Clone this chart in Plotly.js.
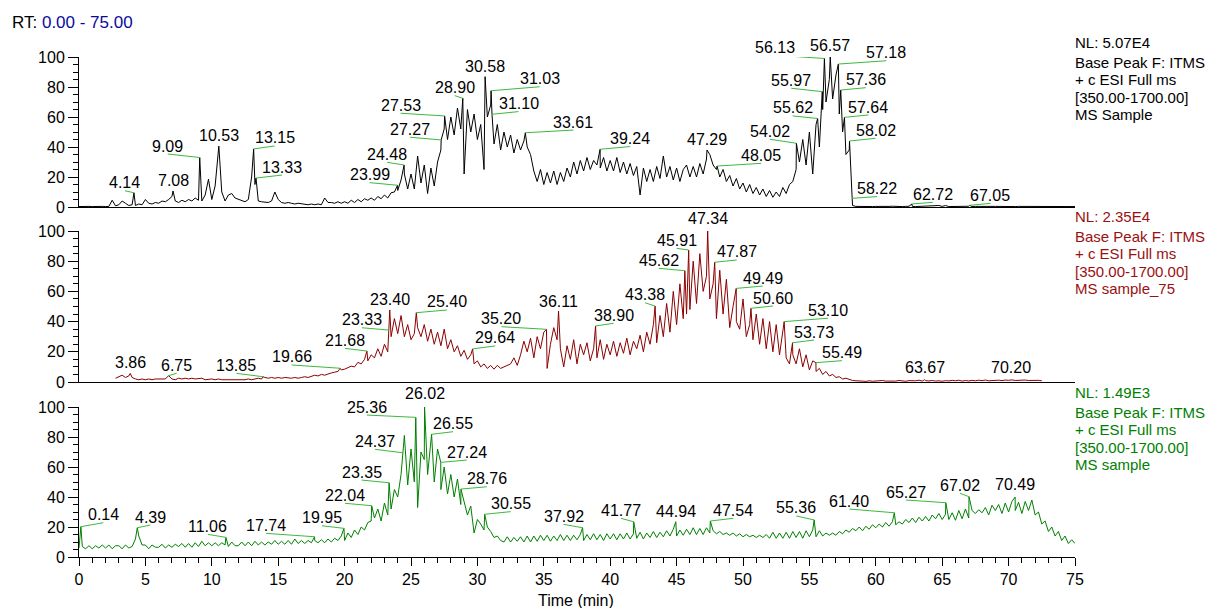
<!DOCTYPE html>
<html><head><meta charset="utf-8">
<script src="https://cdn.plot.ly/plotly-3.0.1.min.js"></script>
<style>html,body{margin:0;padding:0;background:#fff;}#chart{width:1209px;height:608px;}</style>
</head><body><div id="chart"></div>
<script>
// ---------- DATA ----------
const STEP = 0.25; // minutes between successive samples in the value arrays (t = 0 ... 75)

// Panel 1: MS Sample (relative abundance, %)
const valuesSample = [
0.3,0.5,0.3,0.4, 0.3,0.5,0.3,0.4, 0.3,0.4,4.5,0.8, 1.5,4.0,2.5,1.0, 1.5,1.0,2.0,1.5,
5.0,2.5,2.0,3.0, 2.5,4.0,3.5,5.0, 7.0,4.0,3.0,4.5, 3.5,5.0,4.0,6.0, 4.5,4.0,8.0,18.5,
5.0,14,36,10, 4.0,8.0,9.0,6.0, 5.0,4.0,3.5,5.0, 20,15,4.0,3.5, 3.5,3.0,4.0,10,
5.0,3.0,2.5,3.0, 2.5,2.0,2.5,2.0, 2.0,1.5,2.0,1.5, 2.0,1.5,6.0,3.0, 3.0,2.5,3.5,2.5,
3.5,2.5,4.5,3.0, 5.0,3.5,5.5,4.5, 6.0,4.5,7.0,5.5, 8.0,6.0,9.5,10, 11,18,22,12,
22,12,34,16, 28,9,26,14, 30,38,52,45, 60,48,66,52, 22,65,50,62,
45,55,25,60, 68,42,55,38, 50,40,48,36, 45,38,44,40, 35,24,17,25,
15,23,16,24, 15,23,17,26, 20,30,22,31, 24,33,25,31, 28,26,33,24,
31,24,33,23, 30,22,29,21, 27,8,26,17, 25,17,27,19, 34,20,27,18,
26,17,25,28, 20,27,20,29, 22,32,35,28, 25,20,25,17, 21,14,19,12,
16,10,15,9, 13,8,12,7, 11,6.5,10,7, 13,9,15,17, 25,30,45,28,
50,22,55,40, 65,70,85,72, 88,62,50,35, 38,1.0,0.4,0.3, 0.4,0.3,0.5,0.3,
0.4,0.3,0.4,0.3, 0.4,0.5,0.3,0.4, 0.3,0.4,0.5,0.4, 0.3,0.4,0.3,0.5, 0.3,0.4,0.5,1.0,
0.4,1.0,0.3,0.4, 0.3,0.4,0.3,0.4, 0.5,0.3,0.4,0.3, 0.3,0.4,0.3,0.4, 0.4,0.3,0.4,0.3,
0.3,0.4,0.3,0.4, 0.4,0.3,0.4,0.3, 0.3,0.4,0.3,0.4, 0.4,0.3,0.4,0.3, 0.3,0.4,0.3,0.4,
0.3];
const peakTimesSample = [4.14,7.08,9.09,10.53,13.15,13.33,23.99,24.48,27.27,27.53,28.90,30.58,31.03,31.10,33.61,39.24,47.29,48.05,54.02,55.62,55.97,56.13,56.57,57.18,57.36,57.64,58.02,58.22,62.72,67.05];
const peakValsSample  = [9.5,10.7,33,40.6,38.7,19.3,14.5,28,44.7,60.7,72.5,86.9,77.5,61.8,49.5,38.5,38,27.3,42.5,59,76.9,99,100,95.3,78,59.8,44,5.8,2,1.1];

// Panel 2: MS sample_75
const valuesSample75 = [
null,null,null,null, null,null,null,null, null,null,null,2.5, 3.5,4.5,3.0,4.0, 3.0,2.0,1.5,2.0,
1.5,2.0,1.5,2.0, 2.0,2.5,2.0,4.2, 2.0,1.5,2.5,2.0, 2.5,2.0,2.5,2.0, 2.0,2.5,1.5,2.0,
2.0,1.5,2.0,1.5, 1.5,1.0,1.5,1.0, 1.5,1.0,1.5,2.0, 1.5,2.0,2.5,2.0, 3.0,2.5,3.0,2.5,
3.0,2.5,3.0,2.5, 2.5,3.0,2.5,3.0, 3.5,3.0,4.0,4.5, 4.0,5.0,4.5,5.5, 6.0,6.5,7.0,8.0,
8.5,9.5,10.5,10, 13,12,15,14, 18,16,22,17, 25,20,30,42, 32,44,30,38,
28,32,36,30, 38,27,35,25, 33,24,35,22, 28,20,24,17, 21,15,18,12,
14,10,12,9, 11,8.5,11,9, 10,11,12,16, 11,18,27,20, 29,16,30,22,
33,9,25,36, 28,22,10,24, 15,28,12,25, 18,26,14,22, 16,28,15,25,
18,27,17,26, 19,29,18,27, 22,31,20,33, 25,38,26,44, 30,52,33,60,
38,65,42,45, 48,80,52,85, 60,70,55,65, 42,74,45,68, 36,50,40,35,
55,30,38,28, 45,25,42,22, 40,20,38,18, 34,16,12,18, 12,22,10,18,
8,14,7,9, 5,7,4,5, 3,3.5,2,2.5, 1.5,1.0,0.8,0.5, 0.6,0.4,0.8,0.5,
0.7,0.5,1.0,0.6, 0.5,0.8,0.6,1.0, 0.7,0.5,0.9,0.6, 0.8,1.2,0.6,0.9, 0.7,1.0,0.6,0.8,
0.5,0.9,0.7,1.1, 0.8,1.2,0.6,1.0, 0.7,1.1,0.8,1.2, 0.9,1.3,0.8,1.1, 1.0,1.2,0.9,1.3,
1.1,1.4,1.0,1.2, 0.9,1.3,1.0,1.2, 0.9,1.1,0.8,null, null,null,null,null, null,null,null,null,
null];
const peakTimesSample75 = [3.86,6.75,13.85,19.66,21.68,23.33,23.40,25.40,29.64,35.20,36.11,38.90,43.38,45.62,45.91,47.34,47.87,49.49,50.60,53.10,53.73,55.49,63.67,70.20];
const peakValsSample75  = [5.7,4.2,3.5,9.1,20.5,34.4,47.7,45.9,21.9,34.9,47,37.1,50.3,73.7,87.4,100,79.3,62,48.8,40,26,12.8,1.5,1.5];

// Panel 3: MS sample
const valuesSampleB = [
6,7,5.5,7.5, 5.5,7.5,6,8, 6,8,5.5,7.5, 7.5,5.5,8,6, 7,12,14,8,
8,5.5,8,6.5, 6.5,8.5,6,8, 6.5,8.5,7,9, 6.5,9,6.5,9.5, 7,10.5,7.5,9.5,
7.5,9.5,7.5,9.5, 8,7,10,7.5, 7.5,10,7.5,10, 7.5,10.5,8,10, 8,10,8.5,11,
8.5,10.5,8.5,11, 8.5,12,9,11, 9,11,9.5,11, 9.5,11.5,9.5,12, 10,12.5,11,14,
11,16,13,18, 15,20,18,23, 24,26,32,24, 36,28,32,45, 40,55,81,48,
72,50,33,70, 65,55,75,50, 72,45,60,42, 55,40,52,35, 36,28,34,16,
25,22,18,20, 17,13,14,11, 10,13.5,10,13, 10.5,13.5,10,14, 10,14,10.5,14.5,
11,14.5,10.5,14, 11,15,11,14.5, 11,14.5,11.5,15, 11,15,11.5,15.5, 11.5,15,11,15.5,
12,15.5,11.5,15.5, 12,16,12,15.5, 12.5,16.5,12,16, 13,17,13,16.5, 13.5,17.5,14,18.5,
14,18,14.5,18.5, 15,19.5,15,19, 15,19.5,16,17.5, 15.5,17,15,16, 14.5,16,14,15.5,
13.5,15,13.5,14.5, 13,14.5,13,15, 12.5,16.5,12.5,16, 12.5,16.5,12.5,17, 13,17,12.5,17.5,
13.5,18,13.5,17.5, 14,16,14.5,16, 14.5,17,15.5,18, 16.5,19,17.5,20, 17.5,20.5,18.5,21.5,
19.5,22,20,23, 20.5,23.5,21.5,23.5, 22,25,23,26, 23,26.5,24,27, 24,28,25.5,29,
25,28.5,25,29.5, 24.5,31,25.5,32, 26,31,29,31.5, 29.5,33,28,34.5, 31,35,29,36,
30,37,31,36.5, 29,37,31,38, 28,30,22,24, 17,20,14,17, 11,14,9,11.5,
9];
const peakTimesSampleB = [0.14,4.39,11.06,17.74,19.95,22.04,23.35,24.37,25.36,26.02,26.55,27.24,28.76,30.55,37.92,41.77,44.94,47.54,55.36,61.40,65.27,67.02,70.49];
const peakValsSampleB  = [20.2,19.5,13.1,13.5,19.1,34.2,49.5,69.5,93.1,100,81.8,63.1,45.3,28.5,19.5,23.5,23.5,24,24.7,29.5,36.2,40.2,40];

const yTickVals = [0,20,40,60,80,100];
const xTickVals = [0,5,10,15,20,25,30,35,40,45,50,55,60,65,70,75];

// ---------- LABEL PLACEMENT (pixel offsets of the leader-line end from the peak: [dx, dyUp]) ----------
const labelOffSample = [[-9,2],[0,2.5],[-32,3.5],[0,2.8],[21,3],[26,3],[-28,2.6],[-17,2.7],[-31,2.7],[-44,2.7],[-8,2.6],[0,2.5],[48.5,4],[26.5,2.7],[48,2.7],[30,2.7],[0,2.5],[44,2.7],[-26.5,4],[-25,2.6],[-31,3.4],[-49,3.3],[0,3.8],[48,3.3],[25,2.3],[24,2.3],[26,2.7],[25,1.7],[21,1.7],[21,2]];
const labelOffSample75 = [[0,2.5],[8,2.4],[-26.5,3.4],[-48.5,3.3],[-22,2.7],[-27,2.3],[0,2.5],[30.5,2.7],[22.5,3],[-45,2.6],[0,1.8],[18,2.7],[-10,3.3],[-26,2.4],[-12,1.7],[0,4.5],[22,2.3],[26.5,2.3],[22,2.3],[44,3.4],[21.5,2.7],[26,2],[0,3.9],[0,3.9]];
const labelOffSampleB = [[22.5,4],[13,2.7],[-18,3],[-48.5,3.4],[-22,2.6],[-26.7,2.4],[-27.5,2.7],[-27.5,3.4],[-49,2.3],[0,5.5],[21.5,2.6],[26,2.3],[26,2.3],[26,2.6],[-19,3.4],[-12.7,3.4],[0,2.5],[23,2.7],[-18,4],[-45,3.7],[-40,2.7],[-9,3.4],[0,4.2]];

// ---------- BUILD ----------
function series(vals, pt, pv){
  const pts = vals.map((v,i)=>[i*STEP, v]);
  pt.forEach((t,i)=>pts.push([t, pv[i]]));
  pts.sort((a,b)=>a[0]-b[0]);
  const out=[];
  for(const p of pts){
    const last = out[out.length-1];
    if(last && Math.abs(last[0]-p[0])<1e-9){ last[1] = Math.max(last[1]==null?0:last[1], p[1]); }
    else out.push(p.slice());
  }
  return {x: out.map(p=>p[0]), y: out.map(p=>p[1])};
}

const FONT = '"Liberation Sans", Arial, sans-serif';
const LEAD = 'rgb(60,185,60)';
const panels = [
  {vals: valuesSample,   pt: peakTimesSample,   pv: peakValsSample,   off: labelOffSample,   color:'#000000', tcolor:'#000000', xa:'x',  ya:'y',  top:1.0,
   info:['NL: 5.07E4','Base Peak F: ITMS','+ c ESI Full ms','[350.00-1700.00]','MS Sample']},
  {vals: valuesSample75, pt: peakTimesSample75, pv: peakValsSample75, off: labelOffSample75, color:'#8b0000', tcolor:'#9a1010', xa:'x2', ya:'y2', top:0.652,
   info:['NL: 2.35E4','Base Peak F: ITMS','+ c ESI Full ms','[350.00-1700.00]','MS sample_75']},
  {vals: valuesSampleB,  pt: peakTimesSampleB,  pv: peakValsSampleB,  off: labelOffSampleB,  color:'#008000', tcolor:'#008000', xa:'x3', ya:'y3', top:0.3,
   info:['NL: 1.49E3','Base Peak F: ITMS','+ c ESI Full ms','[350.00-1700.00]','MS sample']}
];

const traces=[], annotations=[], shapes=[];
const infoOffsets = [-15,5,22,40,57];
panels.forEach(p=>{
  const s = series(p.vals, p.pt, p.pv);
  traces.push({type:'scatter', mode:'lines', x:s.x, y:s.y, xaxis:p.xa, yaxis:p.ya,
    line:{color:p.color, width:1}, hoverinfo:'skip', connectgaps:false});
  p.pt.forEach((t,i)=>{
    const [dx,dy] = p.off[i];
    annotations.push({xref:p.xa, yref:p.ya, x:t, y:p.pv[i], text:t.toFixed(2), showarrow:false,
      xanchor:'center', yanchor:'bottom', xshift:dx, yshift:dy-2.5, font:{family:FONT,size:16,color:'#000'}});
    if(dx!==0){
      shapes.push({type:'line', xref:p.xa, yref:p.ya, xsizemode:'pixel', ysizemode:'pixel',
        xanchor:t, yanchor:p.pv[i], x0:0, y0:0, x1:dx, y1:dy, line:{color:LEAD, width:1}});
    }
  });
  p.info.forEach((txt,k)=>{
    annotations.push({xref:'paper', yref:'paper', x:1, y:p.top, xanchor:'left', yanchor:'middle',
      xshift:-2, yshift:-infoOffsets[k], text:txt, showarrow:false, font:{family:FONT,size:15,color:p.tcolor}});
  });
});

annotations.push({xref:'paper', yref:'paper', x:-0.0693, y:1.068, xanchor:'left', yanchor:'middle', showarrow:false,
  text:'RT: <span style="color:#0a0a9c">0.00 - 75.00</span>', font:{family:FONT,size:17,color:'#000'}});
annotations.push({xref:'paper', yref:'paper', x:0.499, y:-0.086, xanchor:'center', yanchor:'middle', showarrow:false,
  text:'Time (min)', font:{family:FONT,size:16,color:'#000'}});

const xBase = {range:[0,75], domain:[0,1], showgrid:false, zeroline:false, showline:true, linecolor:'#000', linewidth:1, fixedrange:true};
const yBase = {range:[0,100], tickvals:yTickVals, ticktext:yTickVals.map(String), ticks:'outside', ticklen:10, tickwidth:1, tickcolor:'#000',
  minor:{dtick:5, tick0:0, ticks:'outside', ticklen:5, tickwidth:1, tickcolor:'#000'},
  showgrid:false, zeroline:false, showline:true, linecolor:'#000', linewidth:1, tickfont:{family:FONT,size:16,color:'#000'}, fixedrange:true};

const layout = {
  width:1209, height:608, margin:{l:79, r:134, t:57, b:51, pad:0},
  paper_bgcolor:'#fff', plot_bgcolor:'#fff', showlegend:false,
  font:{family:FONT, size:16, color:'#000'},
  xaxis: Object.assign({}, xBase, {anchor:'y', showticklabels:false, ticks:''}),
  xaxis2: Object.assign({}, xBase, {anchor:'y2', showticklabels:false, ticks:''}),
  xaxis3: Object.assign({}, xBase, {anchor:'y3', tickvals:xTickVals, ticktext:xTickVals.map(String), ticks:'outside', ticklen:8, tickwidth:1, tickcolor:'#000',
     minor:{dtick:1, tick0:0, ticks:'outside', ticklen:5, tickwidth:1, tickcolor:'#000'}, tickfont:{family:FONT,size:16,color:'#000'}}),
  yaxis: Object.assign({}, yBase, {domain:[0.70,1], anchor:'x'}),
  yaxis2: Object.assign({}, yBase, {domain:[0.35,0.652], anchor:'x2'}),
  yaxis3: Object.assign({}, yBase, {domain:[0,0.3], anchor:'x3'}),
  annotations, shapes
};

Plotly.newPlot('chart', traces, layout, {staticPlot:true, displayModeBar:false});
</script></body></html>
